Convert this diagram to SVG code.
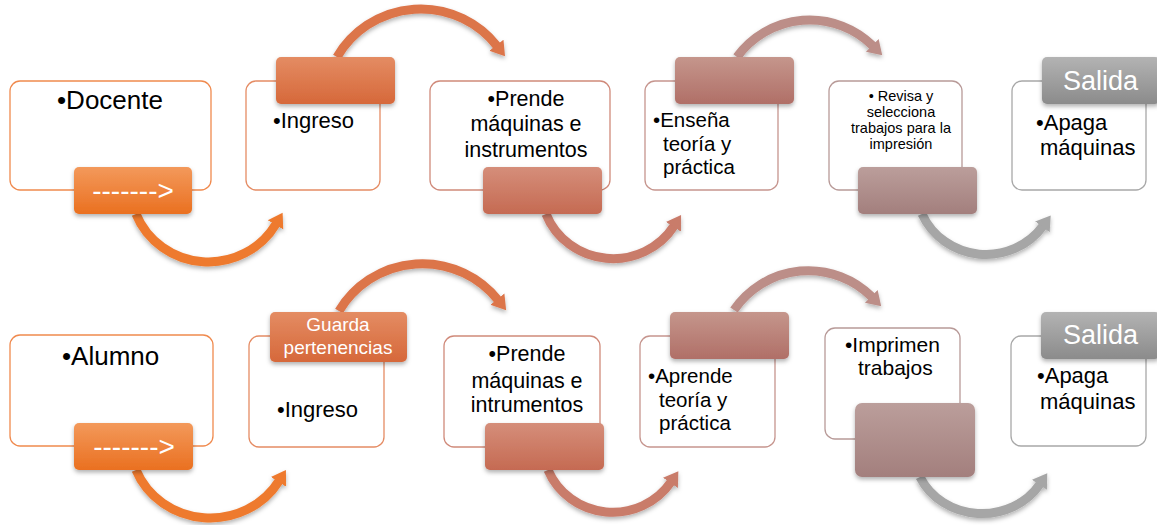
<svg xmlns="http://www.w3.org/2000/svg" width="1157" height="525" viewBox="0 0 1157 525">
<defs>
<style>
.box{fill:#fff;stroke-width:1.3}
.tab{filter:url(#sh)}
.arc{fill:none;stroke-width:9;filter:url(#sh)}
.t{font-family:"Liberation Sans",Arial,sans-serif;fill:#000}
.w{font-family:"Liberation Sans",Arial,sans-serif;fill:#fff}
</style>
<filter id="sh" x="-20%" y="-20%" width="140%" height="150%">
<feDropShadow dx="0" dy="2.5" stdDeviation="2" flood-color="#000" flood-opacity="0.3"/>
</filter>
<linearGradient id="g1" x1="0" y1="0" x2="0" y2="1"><stop offset="0" stop-color="#F3995B"/><stop offset="1" stop-color="#EA7020"/></linearGradient>
<linearGradient id="g2" x1="0" y1="0" x2="0" y2="1"><stop offset="0" stop-color="#E48C63"/><stop offset="1" stop-color="#D6683A"/></linearGradient>
<linearGradient id="g3" x1="0" y1="0" x2="0" y2="1"><stop offset="0" stop-color="#D58E7A"/><stop offset="1" stop-color="#C56A52"/></linearGradient>
<linearGradient id="g4" x1="0" y1="0" x2="0" y2="1"><stop offset="0" stop-color="#C5968C"/><stop offset="1" stop-color="#B06F67"/></linearGradient>
<linearGradient id="g5" x1="0" y1="0" x2="0" y2="1"><stop offset="0" stop-color="#BB9E9B"/><stop offset="1" stop-color="#A37F7D"/></linearGradient>
<linearGradient id="g6" x1="0" y1="0" x2="0" y2="1"><stop offset="0" stop-color="#B3B3B3"/><stop offset="1" stop-color="#8B8B8B"/></linearGradient>
<marker id="m1" markerUnits="userSpaceOnUse" markerWidth="18" markerHeight="22" refX="1" refY="10.5" orient="auto"><path d="M0,1.5 L14,10.5 L0,19.5 Z" fill="#EE7A2F"/></marker>
<marker id="m2" markerUnits="userSpaceOnUse" markerWidth="18" markerHeight="22" refX="1" refY="10.5" orient="auto"><path d="M0,1.5 L14,10.5 L0,19.5 Z" fill="#DC744A"/></marker>
<marker id="m3" markerUnits="userSpaceOnUse" markerWidth="18" markerHeight="22" refX="1" refY="10.5" orient="auto"><path d="M0,1.5 L14,10.5 L0,19.5 Z" fill="#C97B6B"/></marker>
<marker id="m4" markerUnits="userSpaceOnUse" markerWidth="18" markerHeight="22" refX="1" refY="10.5" orient="auto"><path d="M0,1.5 L14,10.5 L0,19.5 Z" fill="#BC8E88"/></marker>
<marker id="m5" markerUnits="userSpaceOnUse" markerWidth="18" markerHeight="22" refX="1" refY="10.5" orient="auto"><path d="M0,1.5 L14,10.5 L0,19.5 Z" fill="#A6A6A6"/></marker>
</defs>
<rect width="1157" height="525" fill="#fff"/>
<g id="connectors">
<path class="arc" d="M136 214 A78 76 0 0 0 276 224" stroke="#EE7A2F" marker-end="url(#m1)"/>
<path class="arc" d="M337 57 A97 97 0 0 1 497 46" stroke="#DC744A" marker-end="url(#m2)"/>
<path class="arc" d="M546 214 A72 70 0 0 0 674 226" stroke="#C97B6B" marker-end="url(#m3)"/>
<path class="arc" d="M737 57 A90 90 0 0 1 873 46" stroke="#BC8E88" marker-end="url(#m4)"/>
<path class="arc" d="M922 214 A70 68 0 0 0 1043 226" stroke="#A6A6A6" marker-end="url(#m5)"/>
<path class="arc" d="M136 470 A80 76 0 0 0 279 481" stroke="#EE7A2F" marker-end="url(#m1)"/>
<path class="arc" d="M339 311 A97 97 0 0 1 498 300" stroke="#DC744A" marker-end="url(#m2)"/>
<path class="arc" d="M548 470 A70 68 0 0 0 671 482" stroke="#C97B6B" marker-end="url(#m3)"/>
<path class="arc" d="M734 310 A90 90 0 0 1 872 297" stroke="#BC8E88" marker-end="url(#m4)"/>
<path class="arc" d="M920 477 A68 62 0 0 0 1040 484" stroke="#A6A6A6" marker-end="url(#m5)"/>
</g>
<g id="docente">
<rect class="box" x="10" y="81" width="201" height="109" rx="10" stroke="#F08A4E"/>
<text class="t" x="57" y="109" font-size="26">•Docente</text>
<rect class="tab" x="74" y="167" width="118" height="47" rx="5" fill="url(#g1)"/>
<text class="w" x="133" y="200" font-size="28" text-anchor="middle">-------&gt;</text>
</g>
<g id="ingreso1">
<rect class="box" x="246" y="81" width="134" height="109" rx="10" stroke="#E58C64"/>
<text class="t" x="273" y="128" font-size="22">•Ingreso</text>
<rect class="tab" x="276" y="57" width="119" height="47" rx="5" fill="url(#g2)"/>
</g>
<g id="prende1">
<rect class="box" x="430" y="81" width="180" height="109" rx="10" stroke="#D08A7A"/>
<text class="t" font-size="21.5" text-anchor="middle"><tspan x="526" y="106">•Prende</tspan><tspan x="526" y="131">máquinas e</tspan><tspan x="526" y="157">instrumentos</tspan></text>
<rect class="tab" x="483" y="167" width="119" height="47" rx="5" fill="url(#g3)"/>
</g>
<g id="ensena">
<rect class="box" x="645" y="81" width="133" height="109" rx="10" stroke="#C6958E"/>
<text class="t" font-size="20.5"><tspan x="653" y="127">•Enseña</tspan><tspan x="663" y="151">teoría y</tspan><tspan x="663" y="174">práctica</tspan></text>
<rect class="tab" x="675" y="57" width="119" height="47" rx="5" fill="url(#g4)"/>
</g>
<g id="revisa">
<rect class="box" x="829" y="81" width="133" height="109" rx="10" stroke="#B89A98"/>
<text class="t" font-size="14.5" text-anchor="middle"><tspan x="901" y="100.5">• Revisa y</tspan><tspan x="901" y="117">selecciona</tspan><tspan x="901" y="133">trabajos para la</tspan><tspan x="901" y="149">impresión</tspan></text>
<rect class="tab" x="858" y="167" width="119" height="47" rx="5" fill="url(#g5)"/>
</g>
<g id="salida1">
<rect class="box" x="1012" y="81" width="134" height="109" rx="10" stroke="#A8A8A8"/>
<text class="t" font-size="22"><tspan x="1036" y="130">•Apaga</tspan><tspan x="1040" y="155">máquinas</tspan></text>
<rect class="tab" x="1042" y="57" width="118" height="47" rx="5" fill="url(#g6)"/>
<text class="w" x="1063" y="90" font-size="27">Salida</text>
</g>
<g id="alumno">
<rect class="box" x="10" y="335" width="203" height="111" rx="10" stroke="#F08A4E"/>
<text class="t" x="62" y="365" font-size="26">•Alumno</text>
<rect class="tab" x="74" y="423" width="119" height="47" rx="5" fill="url(#g1)"/>
<text class="w" x="134" y="456" font-size="28" text-anchor="middle">-------&gt;</text>
</g>
<g id="ingreso2">
<rect class="box" x="249" y="336" width="135" height="111" rx="10" stroke="#E58C64"/>
<text class="t" x="277" y="417" font-size="22">•Ingreso</text>
<rect class="tab" x="270" y="312" width="137" height="50" rx="5" fill="url(#g2)"/>
<text class="w" font-size="19" text-anchor="middle"><tspan x="338" y="331">Guarda</tspan><tspan x="338" y="354">pertenencias</tspan></text>
</g>
<g id="prende2">
<rect class="box" x="444" y="336" width="156" height="111" rx="10" stroke="#D08A7A"/>
<text class="t" font-size="21.5" text-anchor="middle"><tspan x="527" y="361">•Prende</tspan><tspan x="527" y="388">máquinas e</tspan><tspan x="527" y="412">intrumentos</tspan></text>
<rect class="tab" x="485" y="423" width="119" height="47" rx="5" fill="url(#g3)"/>
</g>
<g id="aprende">
<rect class="box" x="640" y="336" width="135" height="111" rx="10" stroke="#C6958E"/>
<text class="t" font-size="20.5"><tspan x="648" y="383">•Aprende</tspan><tspan x="659" y="407">teoría y</tspan><tspan x="659" y="430">práctica</tspan></text>
<rect class="tab" x="670" y="312" width="119" height="47" rx="5" fill="url(#g4)"/>
</g>
<g id="imprimen">
<rect class="box" x="825" y="328" width="135" height="111" rx="10" stroke="#B89A98"/>
<text class="t" font-size="21"><tspan x="845" y="352">•Imprimen</tspan><tspan x="858" y="375">trabajos</tspan></text>
<rect class="tab" x="855" y="403" width="120" height="74" rx="7" fill="url(#g5)"/>
</g>
<g id="salida2">
<rect class="box" x="1011" y="336" width="135" height="110" rx="10" stroke="#A8A8A8"/>
<text class="t" font-size="22"><tspan x="1037" y="383">•Apaga</tspan><tspan x="1040" y="409">máquinas</tspan></text>
<rect class="tab" x="1041" y="312" width="119" height="47" rx="5" fill="url(#g6)"/>
<text class="w" x="1063" y="344" font-size="27">Salida</text>
</g>
</svg>
